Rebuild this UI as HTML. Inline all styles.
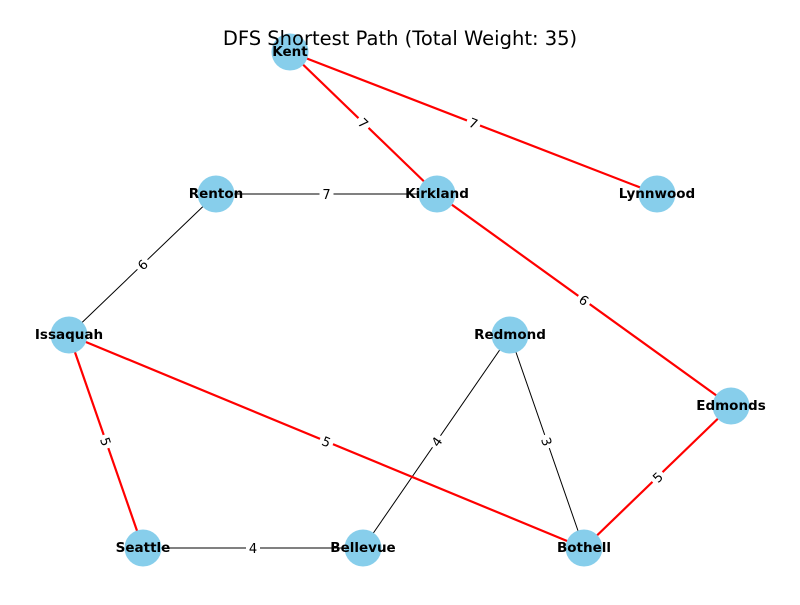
<!DOCTYPE html>
<html><head><meta charset="utf-8"><style>html,body{margin:0;padding:0;background:#fff}</style></head>
<body>
<svg width="800" height="600" xmlns="http://www.w3.org/2000/svg" font-family="'DejaVu Sans','Liberation Sans',sans-serif">
<rect width="800" height="600" fill="#fff"/>
<g stroke-linecap="round">
<line x1="216" y1="194" x2="437" y2="194" stroke="#000" stroke-width="1"/>
<line x1="216" y1="194" x2="69" y2="335" stroke="#000" stroke-width="1"/>
<line x1="510" y1="335" x2="363" y2="548" stroke="#000" stroke-width="1"/>
<line x1="510" y1="335" x2="584" y2="548" stroke="#000" stroke-width="1"/>
<line x1="143" y1="548" x2="363" y2="548" stroke="#000" stroke-width="1"/>
<line x1="290" y1="52" x2="437" y2="194" stroke="#f00" stroke-width="2.2"/>
<line x1="290" y1="52" x2="657" y2="194" stroke="#f00" stroke-width="2.2"/>
<line x1="437" y1="194" x2="731" y2="406" stroke="#f00" stroke-width="2.2"/>
<line x1="69" y1="335" x2="143" y2="548" stroke="#f00" stroke-width="2.2"/>
<line x1="69" y1="335" x2="584" y2="548" stroke="#f00" stroke-width="2.2"/>
<line x1="731" y1="406" x2="584" y2="548" stroke="#f00" stroke-width="2.2"/>
</g>
<g font-size="13" text-anchor="middle" fill="#000">
<g transform="translate(363.5,123) rotate(44)"><rect x="-7" y="-9" width="14" height="18" fill="#fff"/><text y="5">7</text></g>
<g transform="translate(473.5,123) rotate(21)"><rect x="-7" y="-9" width="14" height="18" fill="#fff"/><text y="5">7</text></g>
<g transform="translate(326.5,194)"><rect x="-7" y="-9" width="14" height="18" fill="#fff"/><text y="5">7</text></g>
<g transform="translate(142.5,264.5) rotate(-44)"><rect x="-7" y="-9" width="14" height="18" fill="#fff"/><text y="5">6</text></g>
<g transform="translate(584,300) rotate(36)"><rect x="-7" y="-9" width="14" height="18" fill="#fff"/><text y="5">6</text></g>
<g transform="translate(106,441.5) rotate(71)"><rect x="-7" y="-9" width="14" height="18" fill="#fff"/><text y="5">5</text></g>
<g transform="translate(326.5,441.5) rotate(22.5)"><rect x="-7" y="-9" width="14" height="18" fill="#fff"/><text y="5">5</text></g>
<g transform="translate(436.5,441.5) rotate(-55)"><rect x="-7" y="-9" width="14" height="18" fill="#fff"/><text y="5">4</text></g>
<g transform="translate(547,441.5) rotate(71)"><rect x="-7" y="-9" width="14" height="18" fill="#fff"/><text y="5">3</text></g>
<g transform="translate(657.5,477) rotate(-44)"><rect x="-7" y="-9" width="14" height="18" fill="#fff"/><text y="5">5</text></g>
<g transform="translate(253,548)"><rect x="-7" y="-9" width="14" height="18" fill="#fff"/><text y="5">4</text></g>
</g>
<g fill="#87ceeb">
<circle cx="290" cy="52" r="18.5"/><circle cx="216" cy="194" r="18.5"/><circle cx="437" cy="194" r="18.5"/>
<circle cx="657" cy="194" r="18.5"/><circle cx="69" cy="335" r="18.5"/><circle cx="510" cy="335" r="18.5"/>
<circle cx="731" cy="406" r="18.5"/><circle cx="143" cy="548" r="18.5"/><circle cx="363" cy="548" r="18.5"/>
<circle cx="584" cy="548" r="18.5"/>
</g>
<g font-size="13.5" font-weight="bold" text-anchor="middle" fill="#000">
<text x="290" y="56">Kent</text><text x="216" y="198">Renton</text><text x="437" y="198">Kirkland</text>
<text x="657" y="198">Lynnwood</text><text x="69" y="339">Issaquah</text><text x="510" y="339">Redmond</text>
<text x="731" y="410">Edmonds</text><text x="143" y="552">Seattle</text><text x="363" y="552">Bellevue</text>
<text x="584" y="552">Bothell</text>
</g>
<text x="400" y="45" font-size="19.5" text-anchor="middle" fill="#000">DFS Shortest Path (Total Weight: 35)</text>
</svg>
</body></html>
